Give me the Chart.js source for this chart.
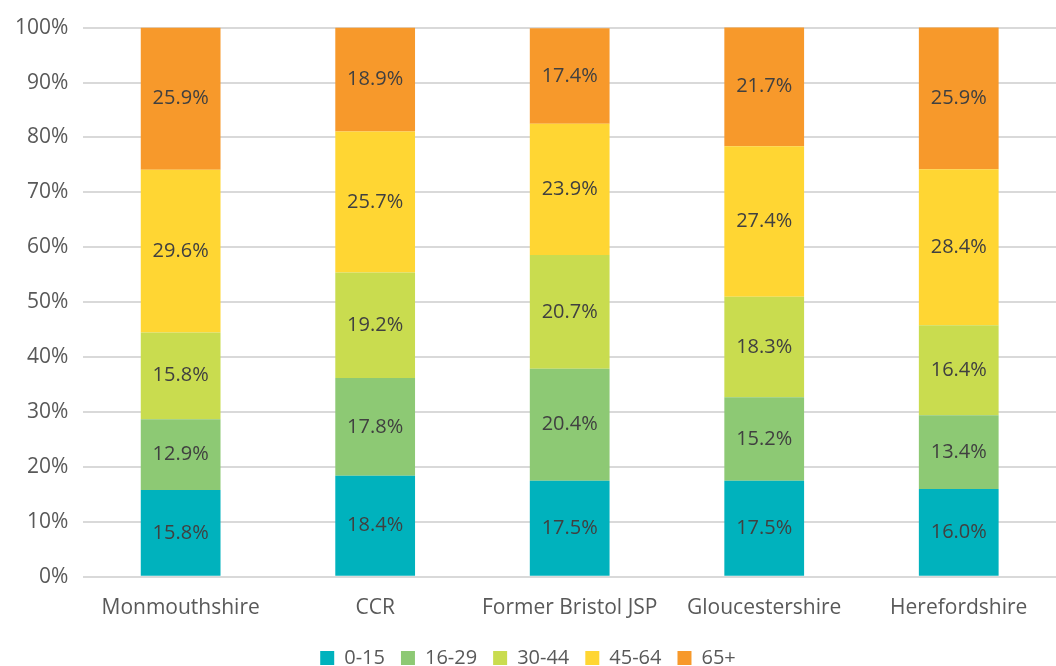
<!DOCTYPE html>
<html>
<head>
<meta charset="utf-8">
<script src="https://cdn.jsdelivr.net/npm/chart.js@4/dist/chart.umd.min.js"></script>
<style>
  html, body { margin: 0; padding: 0; background: #fff; }
  #wrap { width: 1056px; height: 666px; }
</style>
</head>
<body>
<div id="wrap"><canvas id="age-chart"></canvas></div>
<script>
// Age profile chart //

const areas = ["Monmouthshire", "CCR", "Former Bristol JSP", "Gloucestershire", "Herefordshire"];
const ageBands = ["0-15", "16-29", "30-44", "45-64", "65+"];
const age0to15 = [15.8, 18.4, 17.5, 17.5, 16.0];
const age16to29 = [12.9, 17.8, 20.4, 15.2, 13.4];
const age30to44 = [15.8, 19.2, 20.7, 18.3, 16.4];
const age45to64 = [29.6, 25.7, 23.9, 27.4, 28.4];
const age65plus = [25.9, 18.9, 17.4, 21.7, 25.9];
const bandColors = ['#00B2BD', '#8DC974', '#C9DC4F', '#FFD633', '#F7992B'];

const seriesValues = [age0to15, age16to29, age30to44, age45to64, age65plus];
const fontFamily = '"Open Sans", sans-serif';

// draws the value in the middle of each bar segment
const segmentLabels = {
  id: 'segmentLabels',
  afterDatasetsDraw(chart) {
    const ctx = chart.ctx;
    ctx.save();
    ctx.font = '20px ' + fontFamily;
    ctx.fillStyle = '#404040';
    ctx.textAlign = 'center';
    ctx.textBaseline = 'middle';
    chart.data.datasets.forEach((ds, i) => {
      chart.getDatasetMeta(i).data.forEach((bar, j) => {
        const p = bar.getCenterPoint();
        ctx.fillText(ds.data[j].toFixed(1) + '%', p.x, p.y);
      });
    });
    ctx.restore();
  }
};

const ageCanvas = document.querySelector('#age-chart');

let ageChart = new Chart(ageCanvas, {
  type: 'bar',
  data: {
    labels: areas,
    datasets: ageBands.map((band, i) => ({
      label: band,
      data: seriesValues[i],
      backgroundColor: bandColors[i],
      borderWidth: 0,
      barPercentage: 0.41,
      categoryPercentage: 1
    }))
  },
  options: {
    responsive: true,
    maintainAspectRatio: false,
    animation: { duration: 0 },
    layout: { padding: { top: -1, right: 0, left: 0, bottom: -12 } },
    scales: {
      x: {
        stacked: true,
        grid: { display: false },
        border: { display: false },
        ticks: { color: '#595959', font: { family: fontFamily, size: 21 }, padding: 11 }
      },
      y: {
        stacked: true,
        min: 0,
        max: 100,
        ticks: {
          stepSize: 10,
          color: '#595959',
          font: { family: fontFamily, size: 21 },
          padding: 15,
          callback: v => v + '%'
        },
        grid: { color: '#D9D9D9', lineWidth: 2, drawTicks: false },
        border: { display: false }
      }
    },
    plugins: {
      legend: {
        position: 'bottom',
        labels: {
          boxWidth: 14,
          boxHeight: 14,
          padding: 16,
          color: '#595959',
          font: { family: fontFamily, size: 20 }
        }
      },
      tooltip: { enabled: false }
    }
  },
  plugins: [segmentLabels]
});
</script>
</body>
</html>
